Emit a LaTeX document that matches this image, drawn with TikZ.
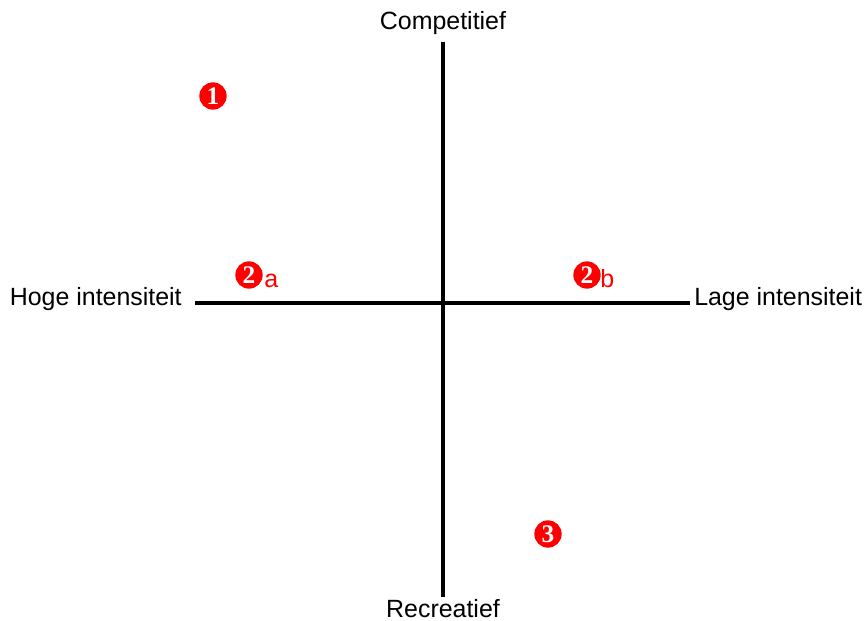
\documentclass[tikz,border=0pt]{standalone}
\usepackage{fontspec}
\setmainfont{Liberation Sans}
\newfontfamily\digitfont{Liberation Serif}
\usetikzlibrary{positioning}

\tikzset{
  axis/.style={line width=3.4pt},
  axislabel/.style={font=\fontsize{18.7}{21}\selectfont, inner sep=0pt},
  marker/.style={circle, fill=red, text=white, inner sep=0pt,
                 minimum size=20.5pt, font=\digitfont\bfseries\fontsize{19}{19}\selectfont},
  sublabel/.style={text=red, font=\fontsize{18.7}{21}\selectfont, inner sep=0pt}
}

\begin{document}
\begin{tikzpicture}[x=0.75pt, y=-0.75pt]
    \useasboundingbox (0,0) rectangle (865,621);

    % Axis end points
    \coordinate (top) at (443,42);
    \coordinate (bottom) at (443,597);
    \coordinate (left) at (195,303);
    \coordinate (right) at (690,303);

    % Axes
    \draw[axis] (top) -- (bottom);
    \draw[axis] (left) -- (right);

    % Axis labels
    \node[axislabel, anchor=base] (competitief) at (443,29) {Competitief};
    \node[axislabel, anchor=base] (recreatief) at (443,617) {Recreatief};
    \node[axislabel, anchor=base east] (hoog) at (182,305) {Hoge intensiteit};
    \node[axislabel, anchor=base west] (laag) at (694,305) {Lage intensiteit};

    % Markers
    \node[marker] (m1) at (213,96) {1};
    \node[marker] (m2a) at (249,275) {2};
    \node[sublabel, anchor=base west] (m2asub) at (264,287) {a};
    \node[marker] (m2b) at (587,275) {2};
    \node[sublabel, anchor=base west] (m2bsub) at (600,287) {b};
    \node[marker] (m3) at (548,534) {3};
\end{tikzpicture}
\end{document}
